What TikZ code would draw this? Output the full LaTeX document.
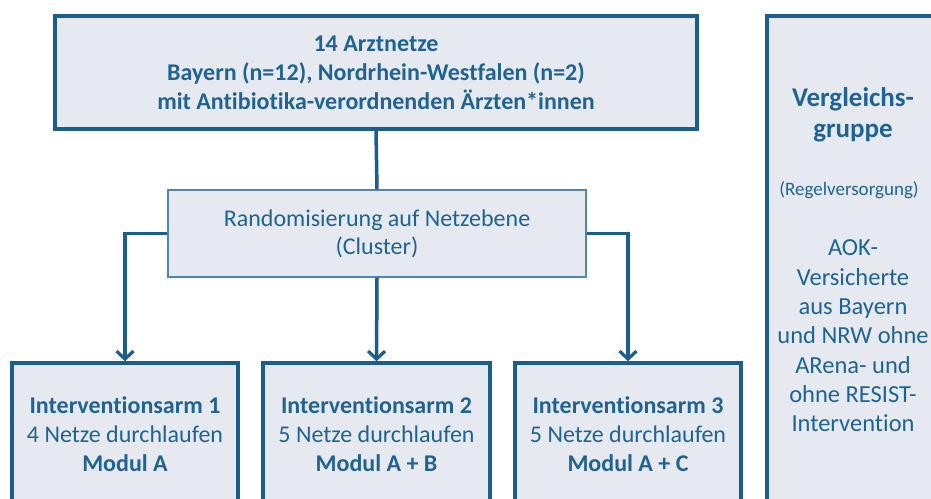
\documentclass[tikz,border=0pt]{standalone}
\usepackage{fontspec}
\setmainfont[Ligatures=NoCommon]{Carlito}
\usetikzlibrary{arrows.meta}
\definecolor{dblue}{HTML}{1B5E8E}
\definecolor{tblue}{HTML}{1F6392}
\definecolor{lblue}{HTML}{4F86B2}
\definecolor{boxfill}{HTML}{E6EAF0}
\tikzset{
  mainbox/.style={draw=dblue, line width=3.5pt, fill=boxfill, text=tblue, align=center, inner sep=0pt},
  randbox/.style={draw=lblue, line width=1.2pt, fill=boxfill, text=tblue, align=center, inner sep=0pt},
  conn/.style={draw=dblue, line width=3.5pt},
  arr/.style={conn, -{Straight Barb[length=8pt,width=17pt,line width=3.2pt]}},
  txt/.style={text=tblue, align=center, inner sep=0pt},
}
\begin{document}
\begin{tikzpicture}[x=1pt,y=-1pt]
\useasboundingbox (0,0) rectangle (931,498);
\fill[white] (0,0) rectangle (931,498);
% top box
\node[mainbox, minimum width=642pt, minimum height=113pt, font=\bfseries\fontsize{24}{29}\selectfont] (top) at (376,72.5)
  {14 Arztnetze\\Bayern (n=12), Nordrhein-Westfalen (n=2)\\mit Antibiotika-verordnenden Ärzten*innen};
% randomisation
\node[randbox, minimum width=418pt, minimum height=87pt, font=\fontsize{24}{28}\selectfont] (rand) at (377,233.5)
  {Randomisierung auf Netzebene\\(Cluster)};
% arms
\node[mainbox, minimum width=226pt, minimum height=142pt, font=\fontsize{24}{29}\selectfont] (arm1) at (125,434)
  {\textbf{Interventionsarm 1}\\4 Netze durchlaufen\\\textbf{Modul A}};
\node[mainbox, minimum width=227pt, minimum height=142pt, font=\fontsize{24}{29}\selectfont] (arm2) at (376.5,434)
  {\textbf{Interventionsarm 2}\\5 Netze durchlaufen\\\textbf{Modul A + B}};
\node[mainbox, minimum width=226pt, minimum height=142pt, font=\fontsize{24}{29}\selectfont] (arm3) at (628,434)
  {\textbf{Interventionsarm 3}\\5 Netze durchlaufen\\\textbf{Modul A + C}};
% comparison group
\node[mainbox, minimum width=172pt, minimum height=492pt] (comp) at (853,262) {};
\node[txt, font=\bfseries\fontsize{27}{31}\selectfont] (comph) at (853,115) {Vergleichs-\\gruppe};
\node[txt, font=\fontsize{19}{22}\selectfont] (compr) at (849,190) {(Regelversorgung)};
\node[txt, font=\fontsize{24.5}{29.3}\selectfont] (compt) at (853,336) {AOK-\\Versicherte\\aus Bayern\\und NRW ohne\\ARena- und\\ohne RESIST-\\Intervention};
% connectors
\draw[conn] (top.south) -- (rand.north);
\draw[arr] (rand.west) -| (arm1.north);
\draw[arr] (rand.south) -- (arm2.north);
\draw[arr] (rand.east) -| (arm3.north);
\end{tikzpicture}
\end{document}
